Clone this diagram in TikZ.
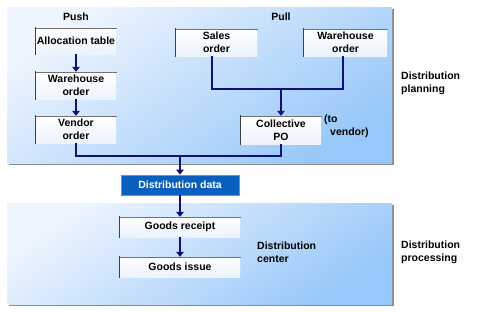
\documentclass[tikz,border=0pt]{standalone}
\usepackage{fontspec}
\setmainfont{Liberation Sans}
\usetikzlibrary{arrows.meta}
\definecolor{navy}{RGB}{16,16,120}
\definecolor{panelA}{RGB}{238,245,254}
\definecolor{panelB}{RGB}{152,200,249}
\definecolor{boxB}{RGB}{236,243,252}
\definecolor{ddblue}{RGB}{10,94,190}
\definecolor{ddedge}{RGB}{90,150,220}
\tikzset{
  lbl/.style={font=\fontsize{10.5}{13}\selectfont\bfseries, inner sep=0pt, align=left, anchor=west},
  ttl/.style={font=\fontsize{10.5}{13}\selectfont\bfseries, inner sep=0pt},
  wbox/.style={font=\fontsize{10.5}{13}\selectfont\bfseries, inner sep=0pt, align=center,
    top color=white, bottom color=boxB, draw=none,
    append after command={
      (\tikzlastnode.south west) edge[draw=black!75, line width=0.8pt, line cap=rect] (\tikzlastnode.north west)
      (\tikzlastnode.north west) edge[draw=black!55, line width=0.6pt, line cap=rect] (\tikzlastnode.north east)
    }},
  dbox/.style={font=\fontsize{10.5}{13}\selectfont\bfseries, text=white, inner sep=0pt, align=center,
    fill=ddblue, draw=ddedge, line width=0.7pt},
  conn/.style={draw=navy, line width=2.5pt},
  arr/.style={conn, -{Triangle[length=5pt,width=7.5pt]}},
  panel/.style={top color=panelA, bottom color=panelB, shading angle=35},
  pshadow/.style={fill=black!45}
}
\begin{document}
\begin{tikzpicture}[x=1pt,y=-1pt]
\useasboundingbox (0,0) rectangle (479,311);
% panels
\fill[pshadow] (9,9) rectangle (394,165);
\shade[panel] (7,7) rectangle (392,163);
\fill[pshadow] (9,205) rectangle (394,306);
\shade[panel] (7,203) rectangle (392,304);

\node[ttl] (push) at (76,17) {Push};
\node[ttl] (pull) at (281,17) {Pull};

\node[wbox, minimum width=80pt, minimum height=26pt] (alloc) at (76,41) {Allocation table};
\node[wbox, minimum width=80pt, minimum height=27pt] (whp) at (76,85.5) {Warehouse\\order};
\node[wbox, minimum width=80pt, minimum height=27pt] (vend) at (76,129.5) {Vendor\\order};
\node[wbox, minimum width=81pt, minimum height=27pt] (sales) at (216.5,42.5) {Sales\\order};
\node[wbox, minimum width=83pt, minimum height=27pt] (whl) at (345.5,42.5) {Warehouse\\order};
\node[wbox, minimum width=80pt, minimum height=28pt] (cpo) at (281,130) {Collective\\PO};
\node[dbox, minimum width=118pt, minimum height=20pt] (dd) at (180,185) {Distribution data};
\node[wbox, minimum width=120pt, minimum height=20pt] (gr) at (180,227) {Goods receipt};
\node[wbox, minimum width=120pt, minimum height=20pt] (gi) at (180,267) {Goods issue};

\node[lbl] (tov) at (324,126) {(to\\\hspace*{6pt}vendor)};
\node[lbl] (dplan) at (401,83.5) {Distribution\\planning};
\node[lbl] (dcent) at (257,252) {Distribution\\center};
\node[lbl] (dproc) at (401,252) {Distribution\\processing};

\coordinate (jl) at (212,89);
\coordinate (jr) at (343,89);
\coordinate (jm) at (281,89);
\coordinate (jb) at (180,156);

\draw[arr] (alloc.south) -- (whp.north);
\draw[arr] (whp.south) -- (vend.north);
\draw[conn] (sales.south -| jl) |- (jr) -- (whl.south -| jr);
\draw[arr] (jm) -- (cpo.north);
\draw[conn] (vend.south) |- (jb) -| (cpo.south);
\draw[arr] (jb) -- (dd.north);
\draw[arr] (dd.south) -- (gr.north);
\draw[arr] (gr.south) -- (gi.north);
\end{tikzpicture}
\end{document}
